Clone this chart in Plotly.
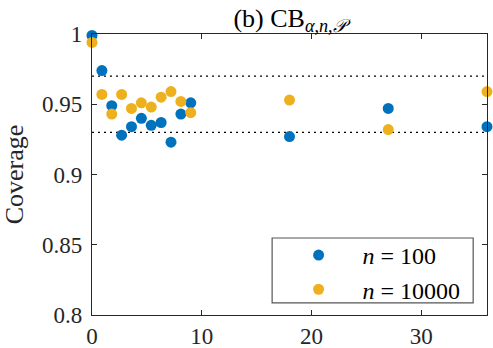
import plotly.graph_objects as go

# abscissae shared by both series
x_vals = [0, 0.9, 1.8, 2.7, 3.6, 4.5, 5.4, 6.3, 7.2, 8.1, 9, 18, 27, 36]

cov_n100 = [0.999, 0.974, 0.949, 0.928, 0.934, 0.940, 0.935, 0.937, 0.923,
            0.943, 0.951, 0.927, 0.947, 0.934]
cov_n10000 = [0.994, 0.957, 0.943, 0.957, 0.947, 0.951, 0.948, 0.955, 0.959,
              0.952, 0.944, 0.953, 0.932, 0.959]

band_levels = [0.93, 0.97]
y_ticks = [0.8, 0.85, 0.9, 0.95, 1]
y_labels = ["0.8", "0.85", "0.9", "0.95", "1"]
x_ticks = [0, 10, 20, 30]

FONT = "Liberation Serif"
AX = "#262626"
PAD = "&nbsp;" * 4

fig = go.Figure()

fig.add_trace(go.Scatter(
    x=x_vals, y=cov_n100, mode="markers", cliponaxis=False,
    name=PAD + "<i>n</i> = 100",
    marker=dict(color="#0072BD", size=11, line=dict(width=0)),
))
fig.add_trace(go.Scatter(
    x=x_vals, y=cov_n10000, mode="markers", cliponaxis=False,
    name=PAD + "<i>n</i> = 10000",
    marker=dict(color="#EDB120", size=11, line=dict(width=0)),
))

# dotted reference lines
for lv in band_levels:
    fig.add_hline(y=lv, line=dict(color="black", width=1.3, dash="2px,4px"), layer="below")

# legend frame (drawn as a shape so the padding matches the original)
fig.add_shape(type="rect", xref="paper", yref="paper",
              x0=0.456, x1=0.965, y0=0.043, y1=0.274,
              line=dict(color="#555555", width=1.2), fillcolor="white", layer="below")

axis_common = dict(
    ticks="inside", ticklen=5, tickcolor=AX, showline=True, linecolor=AX,
    linewidth=1.2, mirror="ticks", showgrid=False, zeroline=False,
    automargin=False, tickfont=dict(family=FONT, size=23, color=AX),
)

fig.update_layout(
    width=493, height=348,
    margin=dict(l=92, r=6, t=34, b=33),
    paper_bgcolor="white", plot_bgcolor="white",
    font=dict(family=FONT, size=23, color=AX),
    title=dict(
        text="(b) CB<sub><i>α,n,𝒫</i></sub>",
        xref="paper", x=0.5, xanchor="center", y=0.975, yanchor="top",
        font=dict(family=FONT, size=26, color="black"),
    ),
    xaxis=dict(range=[0, 36], tickvals=x_ticks, **axis_common),
    yaxis=dict(
        range=[0.8, 1], tickvals=y_ticks, ticktext=y_labels,
        ticklabelstandoff=4,
        title=dict(text="Coverage", standoff=12,
                   font=dict(family=FONT, size=26, color=AX)),
        **axis_common,
    ),
    showlegend=True,
    legend=dict(
        x=0.523, y=0.292, xanchor="left", yanchor="top",
        bgcolor="rgba(0,0,0,0)", borderwidth=0,
        font=dict(family=FONT, size=24, color="black"),
        tracegroupgap=0,
    ),
)

fig.write_html("out.html", config={"displayModeBar": False},
               post_script="document.body.style.margin='0';")
